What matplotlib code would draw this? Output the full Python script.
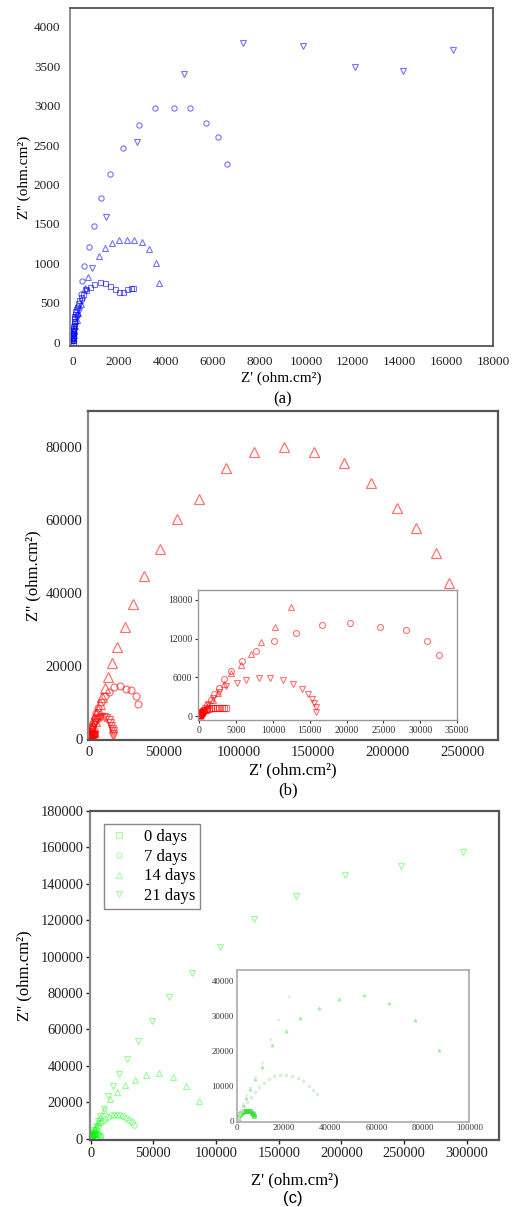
import matplotlib
matplotlib.use("Agg")
import matplotlib.pyplot as plt
from matplotlib.lines import Line2D

plt.rcParams['font.family'] = ['Liberation Serif', 'DejaVu Serif']

series_labels = ["0 days", "7 days", "14 days", "21 days"]
markers = ["s", "o", "^", "v"]

# ---------------- Panel (a) ----------------
a0_x = [10, 15, 20, 25, 30, 35, 40, 45, 50, 60, 70, 85, 100, 120, 150, 190, 240, 300, 380, 470, 600, 750, 920, 1170, 1390, 1600, 1810, 1990, 2160, 2340, 2510, 2600]
a0_y = [5, 30, 60, 90, 120, 150, 180, 210, 240, 270, 300, 330, 360, 390, 420, 450, 490, 530, 570, 610, 660, 700, 740, 765, 753, 715, 670, 630, 640, 668, 680, 680]
a1_x = [20, 40, 60, 90, 130, 180, 255, 350, 424, 510, 700, 920, 1245, 1627, 2178, 2844, 3524, 4330, 5052, 5700, 6240, 6622]
a1_y = [20, 60, 110, 170, 250, 340, 460, 610, 775, 965, 1205, 1477, 1825, 2130, 2460, 2752, 2976, 2976, 2976, 2781, 2604, 2257]
a2_x = [15, 30, 50, 80, 120, 180, 260, 370, 540, 666, 1133, 1388, 1685, 1995, 2335, 2632, 2971, 3283, 3566, 3706]
a2_y = [20, 50, 90, 140, 200, 280, 370, 480, 690, 822, 1092, 1190, 1257, 1291, 1291, 1299, 1266, 1185, 1007, 745]
a3_x = [10, 25, 45, 75, 120, 190, 290, 420, 580, 830, 1430, 2760, 4784, 7290, 9850, 12100, 14165, 16290]
a3_y = [15, 45, 85, 140, 210, 300, 400, 520, 660, 940, 1591, 2540, 3400, 3801, 3763, 3492, 3442, 3712]
a_xticks = [0, 2000, 4000, 6000, 8000, 10000, 12000, 14000, 16000, 18000]
a_yticks = [0, 500, 1000, 1500, 2000, 2500, 3000, 3500, 4000]

# ---------------- Panel (b) ----------------
b0_x = [20, 50, 90, 140, 200, 280, 380, 500, 650, 820, 1000, 1250, 1500, 1800, 2100, 2400, 2700, 3000, 3300, 3600]
b0_y = [60, 150, 250, 360, 470, 580, 690, 800, 900, 1000, 1080, 1160, 1220, 1260, 1280, 1290, 1290, 1285, 1280, 1270]
b1_x = [30, 80, 150, 300, 600, 1000, 1500, 2000, 2600, 3370, 4350, 5800, 7720, 10110, 13160, 16710, 20440, 24570, 28040, 30870, 32570]
b1_y = [80, 200, 300, 500, 1000, 1700, 2550, 3400, 4400, 5690, 7020, 8480, 10075, 11620, 12910, 14150, 14470, 13750, 13330, 11570, 9450]
b2_x = [100, 300, 700, 1200, 1800, 2500, 3400, 4350, 5610, 6960, 8300, 10290, 12440, 15170, 18720, 23860, 29410, 36760, 47460, 58820, 73320, 91370, 110550, 130340, 150390, 170700, 188500, 206330, 219030, 232400, 240890]
b2_y = [150, 420, 950, 1650, 2500, 3500, 4900, 6620, 7860, 9610, 11470, 13840, 16850, 20710, 25100, 30580, 36880, 44550, 52060, 60280, 65920, 74250, 78640, 80090, 78800, 75620, 70230, 63460, 57810, 50960, 42740]
b3_x = [50, 150, 350, 700, 1200, 1900, 2700, 3545, 5070, 6380, 8040, 9650, 11360, 12760, 13920, 14690, 15230, 15580, 15770, 15850]
b3_y = [100, 300, 650, 1200, 1900, 2800, 3800, 4650, 5070, 5580, 5890, 5890, 5580, 4960, 4185, 3360, 2635, 1970, 1350, 670]
b_xticks = [0, 50000, 100000, 150000, 200000, 250000]
b_yticks = [0, 20000, 40000, 60000, 80000]
b_in_xticks = [0, 5000, 10000, 15000, 20000, 25000, 30000, 35000]
b_in_yticks = [0, 6000, 12000, 18000]

# ---------------- Panel (c) ----------------
c0_x = [50, 150, 300, 500, 800, 1200, 1700, 2300, 3000, 3800, 4600, 5400, 6200, 6900, 7400]
c0_y = [100, 350, 700, 1100, 1500, 1900, 2300, 2600, 2800, 2900, 2850, 2650, 2300, 1800, 1200]
c1_x = [200, 600, 1200, 2000, 3000, 4300, 5800, 7500, 9500, 11500, 13500, 16000, 18500, 21000, 23500, 26000, 28500, 30800, 32700, 34300]
c1_y = [300, 900, 1800, 2900, 4100, 5500, 6900, 8300, 9700, 10900, 11900, 12700, 13100, 13200, 12900, 12300, 11300, 10000, 8900, 7700]
c2_x = [100, 400, 900, 1600, 2600, 3900, 5600, 7800, 10500, 15130, 21230, 27070, 35300, 43790, 54680, 65550, 76440, 86800]
c2_y = [200, 800, 1700, 2900, 4500, 6500, 9000, 12000, 15500, 21860, 25850, 29510, 32240, 34970, 36060, 33700, 28800, 20400]
c3_x = [100, 400, 900, 1600, 2600, 3900, 5600, 7800, 10500, 14100, 17500, 22530, 28900, 37420, 48570, 62640, 80650, 102960, 130600, 164000, 203000, 247600, 296700]
c3_y = [250, 900, 1900, 3200, 4900, 7000, 9500, 12500, 16500, 23300, 28800, 35500, 43700, 53550, 64850, 77800, 90900, 105400, 120400, 133300, 144600, 149700, 157200]
c_xticks = [0, 50000, 100000, 150000, 200000, 250000, 300000]
c_yticks = [0, 20000, 40000, 60000, 80000, 100000, 120000, 140000, 160000, 180000]
c_in_xticks = [0, 20000, 40000, 60000, 80000, 100000]
c_in_yticks = [0, 10000, 20000, 30000, 40000]

W, H = 512, 1207
fig = plt.figure(figsize=(W / 100, H / 100), dpi=100)


def rect(l, t, r, b):
    return [l / W, 1 - b / H, (r - l) / W, (b - t) / H]


def style(ax, lw=1.3):
    for s in ax.spines.values():
        s.set_color('#555555')
        s.set_linewidth(lw)
    ax.spines['left'].set_color('#888888')


def draw(ax, xs, ys, color, sizes, mew=0.8, alpha=0.55):
    for x, y, m, ms in zip(xs, ys, markers, sizes):
        ax.plot(x, y, linestyle='none', marker=m, mfc='none', mec=color,
                ms=ms, mew=mew, alpha=alpha)


# ---- (a)
axa = fig.add_axes(rect(70, 8, 493, 346))
draw(axa, [a0_x, a1_x, a2_x, a3_x], [a0_y, a1_y, a2_y, a3_y], 'blue', [3.6, 3.8, 4.3, 4.3])
axa.set_xlim(-100, 18000)
axa.set_ylim(-50, 4240)
axa.set_xticks(a_xticks)
axa.set_yticks(a_yticks)
axa.tick_params(length=0, labelsize=9.5, pad=7, colors='#222222')
style(axa)
axa.set_xlabel("Z' (ohm.cm²)", fontsize=11)
axa.set_ylabel("Z'' (ohm.cm²)", fontsize=11)
axa.xaxis.set_label_coords(0.5, -0.095)
axa.xaxis.label.set_va('center')
axa.yaxis.set_label_coords(-0.109, 0.5)
axa.yaxis.label.set_va('center')
fig.text(283 / W, 1 - 399 / H, "(a)", ha='center', va='center', fontsize=12)

# ---- (b)
axb = fig.add_axes(rect(88, 411, 498, 740))
draw(axb, [b0_x, b1_x, b2_x, b3_x], [b0_y, b1_y, b2_y, b3_y], 'red', [4.0, 5.0, 6.5, 5.5], mew=0.9)
axb.set_xlim(-1000, 274000)
axb.set_ylim(-400, 90000)
axb.set_xticks(b_xticks)
axb.set_yticks(b_yticks)
axb.tick_params(length=0, labelsize=10.6, pad=4, colors='#222222')
style(axb, lw=1.6)
axb.set_xlabel("Z' (ohm.cm²)", fontsize=12)
axb.set_ylabel("Z'' (ohm.cm²)", fontsize=12)
axb.xaxis.set_label_coords(0.5, -0.091)
axb.xaxis.label.set_va('center')
axb.yaxis.set_label_coords(-0.132, 0.5)
axb.yaxis.label.set_va('center')
fig.text(288 / W, 1 - 790 / H, "(b)", ha='center', va='center', fontsize=12)

axbi = fig.add_axes(rect(198, 590, 457, 720))
draw(axbi, [b0_x, b1_x, b2_x, b3_x], [b0_y, b1_y, b2_y, b3_y], 'red', [3.8, 4.3, 5.0, 5.0], mew=0.8)
axbi.set_xlim(-200, 35000)
axbi.set_ylim(-620, 19550)
axbi.set_xticks(b_in_xticks)
axbi.set_yticks(b_in_yticks)
axbi.tick_params(length=2.5, width=0.8, labelsize=7, pad=1.5, colors='#333333')
for s in axbi.spines.values():
    s.set_color('#999999')
    s.set_linewidth(1.0)

# ---- (c)
axc = fig.add_axes(rect(90, 811, 499, 1140))
draw(axc, [c0_x, c1_x, c2_x, c3_x], [c0_y, c1_y, c2_y, c3_y], 'lime', [3.6, 4.0, 4.6, 4.6], mew=0.8, alpha=0.4)
axc.set_xlim(-500, 325600)
axc.set_ylim(-800, 180000)
axc.set_xticks(c_xticks)
axc.set_yticks(c_yticks)
axc.tick_params(length=3, width=1, labelsize=10.4, pad=2, colors='#222222')
style(axc, lw=1.6)
axc.set_xlabel("Z' (ohm.cm²)", fontsize=12)
axc.set_ylabel("Z'' (ohm.cm²)", fontsize=12)
axc.xaxis.set_label_coords(0.5, -0.122)
axc.xaxis.label.set_va('center')
axc.yaxis.set_label_coords(-0.161, 0.5)
axc.yaxis.label.set_va('center')
fig.text(293 / W, 1 - 1198 / H, "(c)", ha='center', va='center', fontsize=12,
         family=['Liberation Sans', 'DejaVu Sans'])

handles = [Line2D([], [], linestyle='none', marker=m, mfc='none', mec='lime', ms=4,
                  mew=0.8, alpha=0.35) for m in markers]
leg = axc.legend(handles, series_labels, loc='upper left', bbox_to_anchor=(0.034, 0.96),
                 borderaxespad=0, fontsize=12, frameon=True, fancybox=False,
                 edgecolor='#888888', framealpha=1, labelspacing=0.22,
                 handlelength=1.2, handletextpad=0.9, borderpad=0.3)
leg.get_frame().set_linewidth(1.0)

axci = fig.add_axes(rect(236.5, 970, 469.3, 1121.7))
in_colors = ['#33dd33', '#c4ecc4', '#88e888', '#e2e2e2']
in_alpha = [0.7, 0.6, 0.7, 0.6]
for x, y, m, col, al in zip([c0_x, c1_x, c2_x, c3_x], [c0_y, c1_y, c2_y, c3_y], markers, in_colors, in_alpha):
    axci.plot(x, y, linestyle='none', marker=m, mfc=col, mec=col, ms=2.2, mew=0.5, alpha=al)
axci.set_xlim(-300, 99000)
axci.set_ylim(-300, 43300)
axci.set_xticks(c_in_xticks)
axci.set_yticks(c_in_yticks)
axci.tick_params(length=0, labelsize=6.3, pad=2, colors='#333333')
for s in axci.spines.values():
    s.set_color('#aaaaaa')
    s.set_linewidth(1.2)

fig.savefig("out.png", dpi=100)
